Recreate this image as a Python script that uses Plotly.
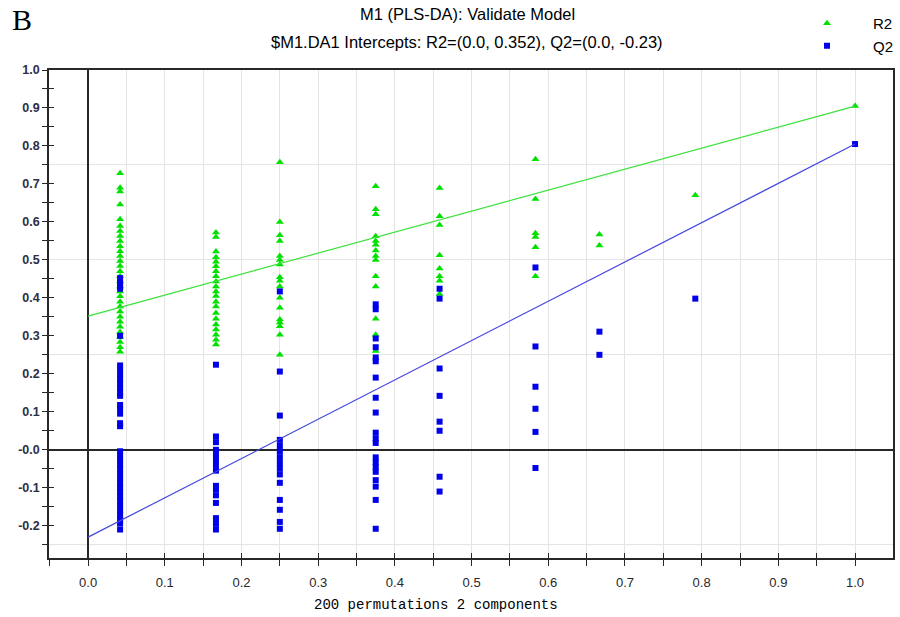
import plotly.graph_objects as go

# ---------------- data ----------------
# permutation correlation positions (x) for each group of permuted models
perm_x = [0.0417, 0.1667, 0.25, 0.375, 0.4583, 0.5833, 0.6667, 0.7917, 1.0]

r2_groups = [
    [0.728, 0.69, 0.68, 0.646, 0.607, 0.589, 0.576, 0.563, 0.55, 0.536, 0.523, 0.51,
     0.497, 0.484, 0.47, 0.457, 0.444, 0.43, 0.417, 0.404, 0.39, 0.377, 0.364, 0.35,
     0.337, 0.324, 0.31, 0.297, 0.284, 0.27, 0.258],
    [0.572, 0.56, 0.522, 0.507, 0.495, 0.483, 0.47, 0.457, 0.443, 0.43, 0.417, 0.405,
     0.39, 0.377, 0.36, 0.345, 0.33, 0.317, 0.303, 0.29, 0.277],
    [0.757, 0.6, 0.565, 0.55, 0.51, 0.5, 0.488, 0.454, 0.445, 0.43, 0.4, 0.374, 0.343,
     0.335, 0.325, 0.303, 0.25],
    [0.694, 0.633, 0.62, 0.562, 0.55, 0.54, 0.525, 0.51, 0.5, 0.457, 0.43, 0.345, 0.303,
     0.26],
    [0.689, 0.615, 0.592, 0.512, 0.477, 0.457, 0.445, 0.41],
    [0.765, 0.66, 0.57, 0.56, 0.533, 0.457],
    [0.567, 0.538],
    [0.67],
    [0.905],
]

q2_groups = [
    [0.452, 0.44, 0.43, 0.424, 0.30, 0.222, 0.21, 0.198, 0.186, 0.174, 0.162, 0.15,
     0.142, 0.118, 0.108, 0.095, 0.07, 0.062, -0.004, -0.016, -0.028, -0.04, -0.052,
     -0.064, -0.076, -0.088, -0.1, -0.112, -0.124, -0.136, -0.148, -0.16, -0.172,
     -0.184, -0.194, -0.21],
    [0.224, 0.035, 0.02, 0.0, -0.012, -0.025, -0.04, -0.055, -0.095, -0.105, -0.12,
     -0.14, -0.18, -0.195, -0.21],
    [0.417, 0.206, 0.09, 0.026, 0.01, -0.005, -0.02, -0.035, -0.05, -0.065, -0.087,
     -0.132, -0.158, -0.19, -0.208],
    [0.383, 0.37, 0.293, 0.27, 0.243, 0.233, 0.19, 0.137, 0.098, 0.045, 0.03, 0.018,
     -0.02, -0.033, -0.045, -0.058, -0.08, -0.097, -0.132, -0.208],
    [0.424, 0.398, 0.214, 0.142, 0.074, 0.05, -0.071, -0.11],
    [0.48, 0.272, 0.166, 0.108, 0.047, -0.048],
    [0.311, 0.25],
    [0.398],
    [0.805],
]

# regression lines: intercept (x=0) to original model (x=1)
r2_line_x = [0.0, 1.0]
r2_line_y = [0.352, 0.905]
q2_line_x = [0.0, 1.0]
q2_line_y = [-0.23, 0.805]

y_tickvals = [-0.2, -0.1, 0.0, 0.1, 0.2, 0.3, 0.4, 0.5, 0.6, 0.7, 0.8, 0.9, 1.0]
y_ticktext = ["-0.2", "-0.1", "-0.0", "0.1", "0.2", "0.3", "0.4", "0.5", "0.6", "0.7",
              "0.8", "0.9", "1.0"]
x_tickvals = [0.0, 0.1, 0.2, 0.3, 0.4, 0.5, 0.6, 0.7, 0.8, 0.9, 1.0]
x_ticktext = ["0.0", "0.1", "0.2", "0.3", "0.4", "0.5", "0.6", "0.7", "0.8", "0.9", "1.0"]

title_line1 = "M1 (PLS-DA): Validate Model"
title_line2 = "$M1.DA1 Intercepts: R2=(0.0, 0.352), Q2=(0.0, -0.23)"
x_title = "200 permutations 2 components"
panel_label = "B"

# ---------------- build ----------------
r2_x, r2_y, q2_x, q2_y = [], [], [], []
for xv, ys in zip(perm_x, r2_groups):
    r2_x += [xv] * len(ys)
    r2_y += ys
for xv, ys in zip(perm_x, q2_groups):
    q2_x += [xv] * len(ys)
    q2_y += ys

GREEN = "rgb(0,225,0)"
BLUE = "rgb(0,0,235)"
FONT = "Liberation Sans, Arial, sans-serif"

fig = go.Figure()
fig.add_trace(go.Scatter(x=r2_x, y=r2_y, mode="markers", name="R2",
                         marker=dict(symbol="triangle-up", size=7, color=GREEN,
                                     line=dict(width=0))))
fig.add_trace(go.Scatter(x=q2_x, y=q2_y, mode="markers", name="Q2",
                         marker=dict(symbol="square", size=6, color=BLUE,
                                     line=dict(width=0))))
fig.add_trace(go.Scatter(x=r2_line_x, y=r2_line_y, mode="lines", showlegend=False,
                         line=dict(color="rgb(60,225,60)", width=1.2)))
fig.add_trace(go.Scatter(x=q2_line_x, y=q2_line_y, mode="lines", showlegend=False,
                         line=dict(color="rgb(70,70,225)", width=1.2)))

XR = [-0.051, 1.0495]
YR = [-0.285, 1.0]
GRID = "rgb(228,228,228)"
AX = "rgb(40,40,40)"

# plot area in pixels (for paper-coordinate text placement)
L, R, T, B = 49, 893, 70, 558
def px(xp):
    return (xp - L) / (R - L)
def py(yp):
    return (B - yp) / (B - T)

fig.update_layout(
    width=900, height=617,
    margin=dict(l=L, r=900 - R, t=T, b=617 - B, autoexpand=False),
    paper_bgcolor="white", plot_bgcolor="white",
    font=dict(family=FONT, color="black"),
    showlegend=True,
    legend=dict(x=px(781), y=py(7), xanchor="left", yanchor="top", itemwidth=82,
                font=dict(family=FONT, size=15, color="black"),
                bgcolor="rgba(0,0,0,0)", tracegroupgap=0),
    xaxis=dict(range=XR, tickmode="array", tickvals=x_tickvals, ticktext=x_ticktext,
               ticks="outside", ticklen=6, tickcolor=AX, tickwidth=1.2,
               ticklabelstandoff=6,
               minor=dict(tickmode="linear", tick0=0, dtick=0.05, ticks="outside",
                          ticklen=6, tickcolor=AX, showgrid=True, gridcolor=GRID,
                          gridwidth=1),
               showgrid=True, gridcolor=GRID, gridwidth=1,
               zeroline=True, zerolinecolor=AX, zerolinewidth=1.5,
               showline=True, linecolor=AX, linewidth=1.5, mirror=True,
               tickfont=dict(family=FONT, size=13, color="rgb(40,40,40)")),
    xaxis2=dict(range=XR, overlaying="x", anchor="y", side="bottom",
                showticklabels=False, showgrid=False, zeroline=False,
                tickmode="linear", tick0=0, dtick=0.05, ticks="inside", ticklen=5,
                tickcolor=AX, tickwidth=1.2, showline=False),
    yaxis=dict(range=YR, tickmode="array", tickvals=y_tickvals, ticktext=y_ticktext,
               ticks="outside", ticklen=5, tickcolor=AX, tickwidth=1.2,
               minor=dict(tickmode="linear", tick0=0, dtick=0.05, ticks="outside",
                          ticklen=5, tickcolor=AX, showgrid=False),
               showgrid=False, zeroline=True, zerolinecolor=AX, zerolinewidth=1.5,
               showline=True, linecolor=AX, linewidth=1.5, mirror=True,
               tickfont=dict(family=FONT, size=12.5, color="rgb(45,45,70)",
                             weight="bold")),
    yaxis2=dict(range=YR, overlaying="y", anchor="x", side="left",
                showticklabels=False, tickmode="linear", tick0=0, dtick=0.25,
                showgrid=True, gridcolor=GRID, gridwidth=1, ticks="",
                zeroline=False, showline=False,
                minor=dict(tickmode="linear", tick0=0, dtick=0.05, ticks="inside",
                           ticklen=5, tickcolor=AX, showgrid=False)),
)

# invisible helper trace so the overlay axes get drawn
fig.add_trace(go.Scatter(x=[None], y=[None], xaxis="x2", yaxis="y2",
                         showlegend=False, hoverinfo="skip"))

fig.add_annotation(text=title_line1, xref="paper", yref="paper",
                   x=px(467), y=py(14), xanchor="center", yanchor="middle",
                   showarrow=False, font=dict(family=FONT, size=16.5, color="black"))
fig.add_annotation(text=title_line2, xref="paper", yref="paper",
                   x=px(467), y=py(42), xanchor="center", yanchor="middle",
                   showarrow=False, font=dict(family=FONT, size=16.5, color="black"))
fig.add_annotation(text=x_title, xref="paper", yref="paper",
                   x=px(436), y=py(605), xanchor="center", yanchor="middle",
                   showarrow=False,
                   font=dict(family="Liberation Mono, Courier New, monospace",
                             size=14, color="black"))
fig.add_annotation(text=panel_label, xref="paper", yref="paper",
                   x=px(10), y=py(20), xanchor="left", yanchor="middle",
                   showarrow=False,
                   font=dict(family="Liberation Serif, Times New Roman, serif",
                             size=30, color="black"))

fig.write_html("out.html")
